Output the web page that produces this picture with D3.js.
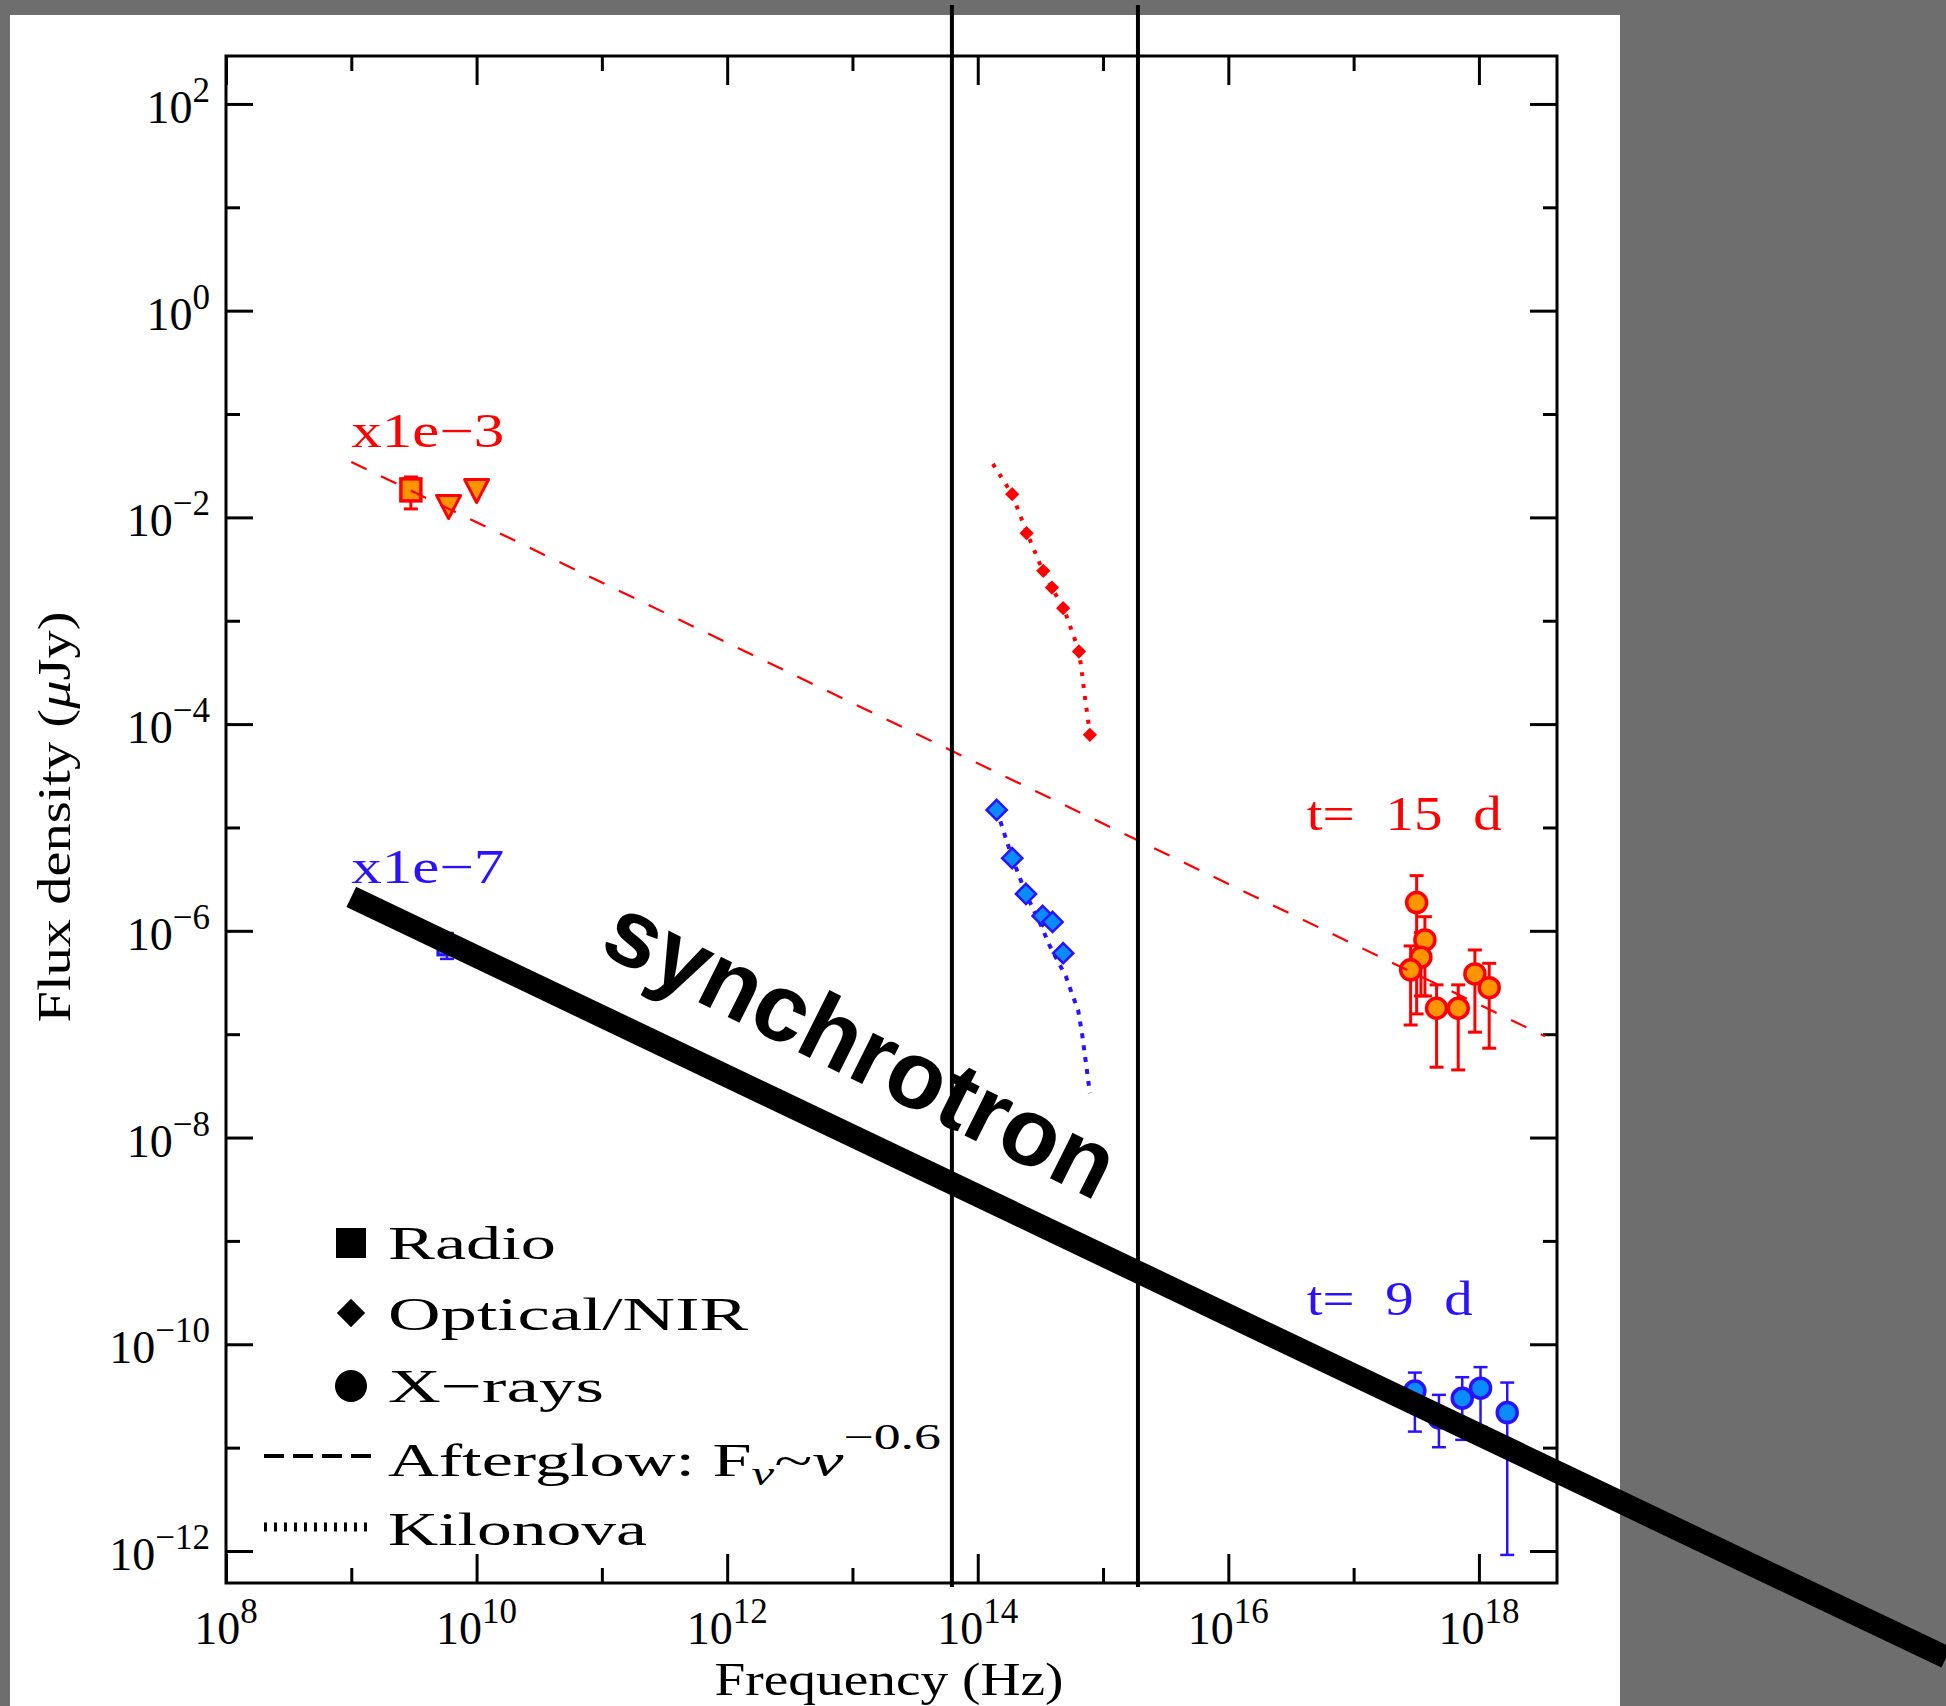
<!DOCTYPE html>
<html>
<head>
<meta charset="utf-8">
<script src="https://cdn.jsdelivr.net/npm/d3@7"></script>
<style>
  body { margin: 0; background: #6e6e6e; }
  svg { display: block; }
</style>
</head>
<body>
<div id="chart"></div>
<script>
// ---- data (frequency in Hz, flux density in microJy, already scaled) ----
// t = 15 d (x1e-3), red
const radioNu15 = [2.99e9];
const radioF15 = [0.01845];
const radioLo15 = [0.01208];
const radioHi15 = [0.0246];
const limitNu15 = [5.98e9, 1.0e10];
const limitF15 = [0.01276, 0.01822];
const optNu15 = [1.884e14, 2.455e14, 3.334e14, 3.908e14, 4.808e14, 6.427e14, 7.852e14];
const optF15 = [1.675e-2, 7.03e-3, 3.04e-3, 2.094e-3, 1.324e-3, 5.04e-4, 7.87e-5];
const knNu15 = [1.321e14, 1.875e14, 2.472e14, 3.311e14, 3.908e14, 4.875e14, 6.427e14, 6.792e14, 7.178e14, 7.621e14, 7.852e14];
const knF15 = [3.29e-2, 1.687e-2, 7.06e-3, 3.03e-3, 2.075e-3, 1.30e-3, 5.105e-4, 3.10e-4, 1.803e-4, 1.057e-4, 7.87e-5];
const xrayNu15 = [3.184e17, 3.707e17, 3.443e17, 2.851e17, 4.592e17, 6.839e17, 9.29e17, 1.208e18];
const xrayF15 = [1.875e-6, 8.17e-7, 5.55e-7, 4.19e-7, 1.782e-7, 1.782e-7, 3.83e-7, 2.818e-7];
const xrayLo15 = [1.57e-7, 2.344e-7, 2.344e-7, 1.227e-7, 4.79e-8, 4.51e-8, 1.045e-7, 7.31e-8];
const xrayHi15 = [3.42e-6, 1.371e-6, 9.59e-7, 7.14e-7, 3.0e-7, 3.0e-7, 6.53e-7, 4.85e-7];
const afterglowNu = [1e9, 3.37e18];
const afterglowF = [0.0344, 9.55e-8];

// t = 9 d (x1e-7), blue
const radioNu9 = [5.8e9];
const radioF9 = [7.14e-7];
const radioLo9 = [5.35e-7];
const radioHi9 = [9.53e-7];
const optNu9 = [1.416e14, 1.884e14, 2.427e14, 3.296e14, 3.954e14, 4.808e14];
const optF9 = [1.476e-5, 5.05e-6, 2.275e-6, 1.393e-6, 1.219e-6, 6.08e-7];
const knNu9 = [1.416e14, 1.884e14, 2.427e14, 3.236e14, 3.724e14, 5.058e14, 5.445e14, 6.339e14, 6.792e14, 7.211e14, 7.852e14];
const knF9 = [1.476e-5, 5.07e-6, 2.275e-6, 1.096e-6, 7.30e-7, 3.61e-7, 2.786e-7, 1.69e-7, 1.021e-7, 5.93e-8, 2.69e-8];
const xrayNu9 = [3.083e17, 4.797e17, 7.362e17, 1.030e18, 1.683e18];
const xrayF9 = [3.53e-11, 1.936e-11, 3.006e-11, 3.76e-11, 2.183e-11];
const xrayLo9 = [1.429e-11, 1.009e-11, 1.189e-11, 1.585e-11, 9.16e-13];
const xrayHi9 = [5.32e-11, 3.24e-11, 4.80e-11, 6.01e-11, 4.26e-11];

// annotations
const synchNu = [1e9, 5.37e21];
const synchF = [2.128e-6, 9.33e-14];
const bandNu = [6.22e13, 1.90e15];

// axes
const xMajor = [1e8, 1e10, 1e12, 1e14, 1e16, 1e18];
const xMinor = [1e9, 1e11, 1e13, 1e15, 1e17];
const yMajor = [1e2, 1e0, 1e-2, 1e-4, 1e-6, 1e-8, 1e-10, 1e-12];
const yMinor = [1e1, 1e-1, 1e-3, 1e-5, 1e-7, 1e-9, 1e-11];
const legendLabels = ["Radio", "Optical/NIR", "X\u2212rays", "Afterglow: F", "Kilonova"];

// ---- layout ----
const W = 1946, H = 1706;
const margin = {top: 56, right: 389, bottom: 123, left: 226};
const width = W - margin.left - margin.right;
const height = H - margin.top - margin.bottom;

const RED = "#ff0000", ORANGE = "#ff9500", BLUE = "#2a12ff", LBLUE = "#0a8cff";
const serif = "'Liberation Serif', 'Times New Roman', serif";

const root = d3.select("#chart").append("svg")
    .attr("width", W).attr("height", H);

root.append("rect").attr("width", W).attr("height", H).attr("fill", "#6e6e6e");
root.append("rect").attr("x", 10).attr("y", 15).attr("width", 1610).attr("height", H - 15).attr("fill", "#fff");

const svg = root.append("g").attr("transform", `translate(${margin.left},${margin.top})`);

const x = d3.scaleLog().domain([1e8, 4.2e18]).range([0, width]);
const y = d3.scaleLog().domain([4.9e-13, 291]).range([height, 0]);

// ticks on all four sides, pointing inwards
function ticks(axis, vals, size, tr) {
    const g = svg.append("g").attr("transform", tr)
        .call(axis.tickValues(vals).tickSize(-size).tickFormat(""));
    g.select(".domain").remove();
    g.selectAll(".tick line").attr("stroke", "#000").attr("stroke-width", 3);
}
ticks(d3.axisBottom(x), xMajor, 29, `translate(0,${height})`);
ticks(d3.axisBottom(x), xMinor, 15, `translate(0,${height})`);
ticks(d3.axisTop(x), xMajor, 29, "translate(0,0)");
ticks(d3.axisTop(x), xMinor, 15, "translate(0,0)");
ticks(d3.axisLeft(y), yMajor, 27, "translate(0,0)");
ticks(d3.axisLeft(y), yMinor, 14, "translate(0,0)");
ticks(d3.axisRight(y), yMajor, 27, `translate(${width},0)`);
ticks(d3.axisRight(y), yMinor, 14, `translate(${width},0)`);

svg.append("rect").attr("width", width).attr("height", height)
    .attr("fill", "none").attr("stroke", "#000").attr("stroke-width", 3);

// power-of-ten labels
function powLabel(t, v) {
    const e = Math.round(Math.log10(v));
    t.append("tspan").text("10");
    t.append("tspan").attr("dy", -21).attr("font-size", 35).text(e < 0 ? "\u2212" + (-e) : e);
}
svg.selectAll(".ylab").data(yMajor).enter().append("text")
    .attr("x", -16).attr("y", d => y(d) + 19)
    .attr("text-anchor", "end").attr("font-family", serif).attr("font-size", 46)
    .each(function(d) { powLabel(d3.select(this), d); });
svg.selectAll(".xlab").data(xMajor).enter().append("text")
    .attr("x", d => x(d)).attr("y", height + 61)
    .attr("text-anchor", "middle").attr("font-family", serif).attr("font-size", 46)
    .each(function(d) { powLabel(d3.select(this), d); });

// axis titles
const yt = svg.append("text")
    .attr("transform", `translate(${70 - margin.left},${817 - margin.top}) rotate(-90)`)
    .attr("text-anchor", "middle").attr("font-family", serif).attr("font-size", 46)
    .attr("textLength", 411).attr("lengthAdjust", "spacingAndGlyphs");
yt.append("tspan").text("Flux density (");
yt.append("tspan").attr("font-style", "italic").text("\u03bc");
yt.append("tspan").text("Jy)");
svg.append("text")
    .attr("x", 889 - margin.left).attr("y", height + 112)
    .attr("text-anchor", "middle").attr("font-family", serif).attr("font-size", 46)
    .attr("textLength", 349).attr("lengthAdjust", "spacingAndGlyphs")
    .text("Frequency (Hz)");

// ---- legend ----
const leg = root.append("g").attr("font-family", serif).attr("font-size", 47);
const legBase = [1259, 1330, 1402, 1476, 1545];
const legLen = [168, 360, 216, 553, 259];
leg.append("rect").attr("x", 336).attr("y", legBase[0] - 31).attr("width", 30).attr("height", 30).attr("fill", "#000");
leg.append("path").attr("d", d3.symbol(d3.symbolDiamond2, 512)).attr("transform", `translate(351,${legBase[1] - 17})`).attr("fill", "#000");
leg.append("circle").attr("cx", 351).attr("cy", legBase[2] - 16).attr("r", 16).attr("fill", "#000");
leg.append("line").attr("x1", 264).attr("x2", 372).attr("y1", legBase[3] - 20).attr("y2", legBase[3] - 20)
    .attr("stroke", "#000").attr("stroke-width", 4).attr("stroke-dasharray", "20,9");
leg.append("line").attr("x1", 264).attr("x2", 372).attr("y1", legBase[4] - 18).attr("y2", legBase[4] - 18)
    .attr("stroke", "#000").attr("stroke-width", 9).attr("stroke-dasharray", "3,7");
legendLabels.forEach((lab, i) => {
    const t = leg.append("text").attr("x", 388).attr("y", legBase[i])
        .attr("textLength", legLen[i]).attr("lengthAdjust", "spacingAndGlyphs");
    t.append("tspan").text(lab);
    if (i === 3) {
        t.append("tspan").attr("font-style", "italic").attr("font-size", 34).attr("dy", 9).text("\u03bd");
        t.append("tspan").attr("dy", -9).text("~");
        t.append("tspan").attr("font-style", "italic").text("\u03bd");
        t.append("tspan").attr("font-size", 36).attr("dy", -27).text("\u22120.6");
    }
});

// ---- helpers for marks ----
const line = d3.line().x(d => x(d[0])).y(d => y(d[1]));
const zip = (a, b) => a.map((v, i) => [v, b[i]]);

function errBars(nu, lo, hi, color, w) {
    const g = svg.append("g").attr("stroke", color).attr("stroke-width", w).attr("fill", "none");
    nu.forEach((v, i) => {
        g.append("line").attr("x1", x(v)).attr("x2", x(v)).attr("y1", y(lo[i])).attr("y2", y(hi[i]));
        [lo[i], hi[i]].forEach(e => g.append("line")
            .attr("x1", x(v) - 7).attr("x2", x(v) + 7).attr("y1", y(e)).attr("y2", y(e)));
    });
}

// ---- t = 15 d (red) ----
svg.append("path").datum(zip(knNu15, knF15)).attr("d", line)
    .attr("fill", "none").attr("stroke", RED).attr("stroke-width", 4).attr("stroke-dasharray", "4,8");
svg.selectAll(".opt15").data(zip(optNu15, optF15)).enter().append("path")
    .attr("d", d3.symbol(d3.symbolDiamond2, 130))
    .attr("transform", d => `translate(${x(d[0])},${y(d[1])})`).attr("fill", RED);

errBars(radioNu15, radioLo15, radioHi15, RED, 3);
svg.selectAll(".radio15").data(zip(radioNu15, radioF15)).enter().append("rect")
    .attr("x", d => x(d[0]) - 10).attr("y", d => y(d[1]) - 11).attr("width", 20).attr("height", 22)
    .attr("fill", ORANGE).attr("stroke", RED).attr("stroke-width", 3.5);
svg.selectAll(".lim15").data(zip(limitNu15, limitF15)).enter().append("path")
    .attr("d", "M-12,-11L12,-11L0,12Z")
    .attr("transform", d => `translate(${x(d[0])},${y(d[1])})`)
    .attr("fill", ORANGE).attr("stroke", RED).attr("stroke-width", 3).attr("stroke-linejoin", "round");

errBars(xrayNu15, xrayLo15, xrayHi15, RED, 3);
svg.selectAll(".x15").data(zip(xrayNu15, xrayF15)).enter().append("circle")
    .attr("cx", d => x(d[0])).attr("cy", d => y(d[1])).attr("r", 10)
    .attr("fill", ORANGE).attr("stroke", RED).attr("stroke-width", 3.5);

svg.append("path").datum(zip(afterglowNu, afterglowF)).attr("d", line)
    .attr("fill", "none").attr("stroke", RED).attr("stroke-width", 2.2).attr("stroke-dasharray", "17,16");

// ---- t = 9 d (blue) ----
svg.append("path").datum(zip(knNu9, knF9)).attr("d", line)
    .attr("fill", "none").attr("stroke", BLUE).attr("stroke-width", 4).attr("stroke-dasharray", "5,7");
svg.selectAll(".opt9").data(zip(optNu9, optF9)).enter().append("path")
    .attr("d", d3.symbol(d3.symbolDiamond2, 260))
    .attr("transform", d => `translate(${x(d[0])},${y(d[1])})`)
    .attr("fill", LBLUE).attr("stroke", BLUE).attr("stroke-width", 2.5);

errBars(radioNu9, radioLo9, radioHi9, BLUE, 2.5);
svg.selectAll(".radio9").data(zip(radioNu9, radioF9)).enter().append("rect")
    .attr("x", d => x(d[0]) - 9).attr("y", d => y(d[1]) - 9).attr("width", 18).attr("height", 18)
    .attr("fill", LBLUE).attr("stroke", BLUE).attr("stroke-width", 3);

errBars(xrayNu9, xrayLo9, xrayHi9, BLUE, 2.5);
svg.selectAll(".x9").data(zip(xrayNu9, xrayF9)).enter().append("circle")
    .attr("cx", d => x(d[0])).attr("cy", d => y(d[1])).attr("r", 10)
    .attr("fill", LBLUE).attr("stroke", BLUE).attr("stroke-width", 3.5);

// ---- labels ----
function label(txt, nu, f, color, len) {
    svg.append("text").attr("x", x(nu)).attr("y", y(f))
        .attr("font-family", serif).attr("font-size", 48).attr("fill", color)
        .attr("textLength", len).attr("lengthAdjust", "spacingAndGlyphs")
        .attr("word-spacing", 14).text(txt);
}
label("x1e\u22123", 1e9, 0.0484, RED, 153);
label("x1e\u22127", 1e9, 2.87e-6, BLUE, 153);
label("t= 15 d", 4.22e16, 9.46e-6, RED, 195);
label("t= 9 d", 4.22e16, 1.92e-10, BLUE, 166);

// ---- synchrotron annotation ----
svg.append("text")
    .attr("transform", `translate(${x(9.2e10)},${y(6.3e-7)}) rotate(26.6)`)
    .attr("font-family", "'Liberation Sans', Arial, sans-serif").attr("font-weight", "bold")
    .attr("font-size", 96).attr("textLength", 558).attr("lengthAdjust", "spacingAndGlyphs")
    .text("synchrotron");
svg.append("path").datum(zip(synchNu, synchF)).attr("d", line)
    .attr("fill", "none").attr("stroke", "#000").attr("stroke-width", 22.5);

// band edges
svg.selectAll(".band").data(bandNu).enter().append("line")
    .attr("x1", d => x(d)).attr("x2", d => x(d))
    .attr("y1", -51).attr("y2", height + 4)
    .attr("stroke", "#000").attr("stroke-width", 4);
</script>
</body>
</html>
